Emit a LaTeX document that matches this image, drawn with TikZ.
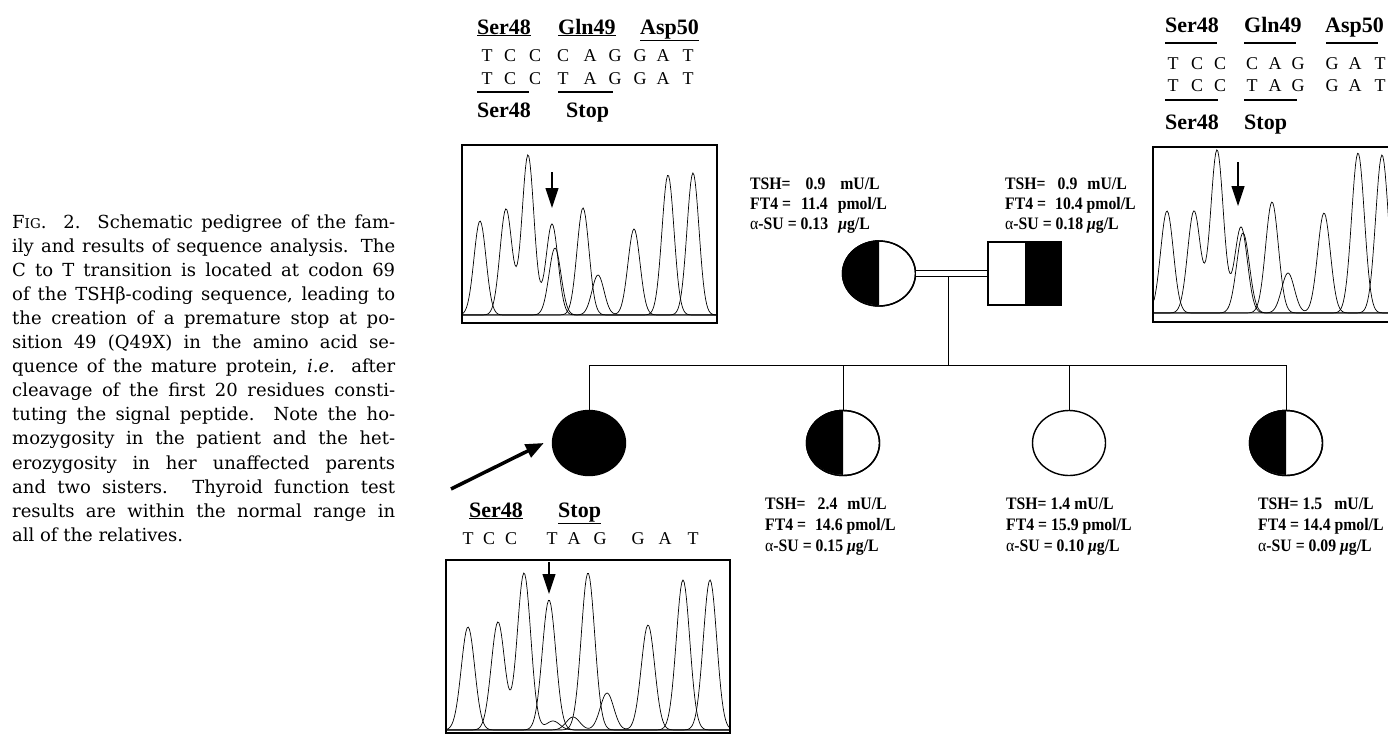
\documentclass[tikz,border=0pt]{standalone}
\usepackage{fontspec}
\newfontfamily\tnr{Liberation Serif}
\newfontfamily\tnrc[FakeStretch=0.9]{Liberation Serif}
\newfontfamily\capf{DejaVu Serif}
\usetikzlibrary{arrows.meta,shapes.geometric}
\newcommand{\cl}[1]{\makebox[383pt][s]{#1}}
\newcommand{\gpk}[2]{#2*exp(max(-20,0-(((\x-#1)/\gsig)^2)))}
\newcommand{\gp}[1]{\hspace{#1pt}}
\def\gsig{8.5}
\tikzset{
  hdr/.style={font=\tnr\bfseries\fontsize{22}{26}\selectfont, inner sep=0, anchor=base west},
  seqc/.style={font=\tnr\fontsize{18}{20}\selectfont, inner sep=0, anchor=base},
  lab/.style={font=\tnrc\bfseries\fontsize{17.5}{20}\selectfont, inner sep=0, anchor=base west},
  trace/.style={line width=0.7pt, black},
  noise/.style={line width=0.5pt, gray!70},
  chbox/.style={line width=1.8pt, black},
  rule/.style={line width=1.2pt, black},
  chark/.style={line width=1.1pt, -{Triangle[length=20pt,width=13pt]}},
  fem/.style={ellipse, draw, line width=1.4pt, minimum width=73pt, minimum height=65pt, inner sep=0, fill=white},
  mal/.style={rectangle, draw, line width=1.4pt, minimum width=73pt, minimum height=63pt, inner sep=0, fill=white},
  pline/.style={line width=1pt, black}
}
\begin{document}
\begin{tikzpicture}[x=1pt,y=-1pt]
\useasboundingbox (0,0) rectangle (1388,734);
\fill[white] (0,0) rectangle (1388,734);
\clip (0,0) rectangle (1388,734);

% ---------- caption ----------
\node[anchor=base west, inner sep=0, font=\capf\fontsize{18}{24.1}\selectfont] (cap) at (12,228) {\begin{minipage}[t]{383pt}%
\cl{F{\fontsize{13.5}{16}\selectfont IG}.\ \ 2.\ \ Schematic pedigree of the fam-}\par
\cl{ily and results of sequence analysis. The}\par
\cl{C to T transition is located at codon 69}\par
\cl{of the TSHβ-coding sequence, leading to}\par
\cl{the creation of a premature stop at po-}\par
\cl{sition 49 (Q49X) in the amino acid se-}\par
\cl{quence of the mature protein, \textit{i.e.} after}\par
\cl{cleavage of the first 20 residues consti-}\par
\cl{tuting the signal peptide. Note the ho-}\par
\cl{mozygosity in the patient and the het-}\par
\cl{erozygosity in her unaffected parents}\par
\cl{and two sisters. Thyroid function test}\par
\cl{results are within the normal range in}\par
all of the relatives.\end{minipage}};

% ---------- top-left sequence ----------
\node[hdr] (tlh1) at (477,34) {\underline{Ser48}};
\node[hdr] (tlh2) at (558,34) {\underline{Gln49}};
\node[hdr] (tlh3) at (640,34) {\underline{Asp50}};
\foreach \c/\xx [count=\i] in {T/487,C/510,C/535,C/563,A/590,G/615,G/640,A/663,T/688}
  \node[seqc] (tla\i) at (\xx,61) {\c};
\foreach \c/\xx [count=\i] in {T/487,C/510,C/535,T/563,A/590,G/615,G/640,A/663,T/688}
  \node[seqc] (tlb\i) at (\xx,84) {\c};
\draw[rule] (477,92) -- (529,92);
\draw[rule] (558,92) -- (613,92);
\node[hdr] (tll1) at (477,117) {Ser48};
\node[hdr] (tll2) at (566,117) {Stop};

% ---------- top-right sequence ----------
\node[hdr] (trh1) at (1165,32) {Ser48};
\node[hdr] (trh2) at (1244,32) {Gln49};
\node[hdr] (trh3) at (1325,32) {Asp50};
\draw[rule] (1165,43) -- (1217,43);
\draw[rule] (1244,43) -- (1296,43);
\draw[rule] (1326,43) -- (1378,43);
\foreach \c/\xx [count=\i] in {T/1173,C/1197,C/1220,C/1252,A/1275,G/1298,G/1332,A/1355,T/1380}
  \node[seqc] (tra\i) at (\xx,69) {\c};
\foreach \c/\xx [count=\i] in {T/1173,C/1197,C/1220,T/1252,A/1275,G/1298,G/1332,A/1355,T/1380}
  \node[seqc] (trb\i) at (\xx,91) {\c};
\draw[rule] (1165,100) -- (1218,100);
\draw[rule] (1244,100) -- (1297,100);
\node[hdr] (trl1) at (1165,129) {Ser48};
\node[hdr] (trl2) at (1244,129) {Stop};

% ---------- bottom sequence ----------
\node[hdr] (bh1) at (469,517) {\underline{Ser48}};
\node[hdr] (bh2) at (558,517) {\underline{Stop}};
\foreach \c/\xx [count=\i] in {T/468,C/489,C/511,T/552,A/574,G/600,G/638,A/665,T/693}
  \node[seqc] (bs\i) at (\xx,544) {\c};

% ---------- chromatogram top-left ----------
\def\gsig{8.5}
\begin{scope}
\clip (463,146) rectangle (716,322);
\draw[noise] (463,314) -- (716,314);
\draw[trace] plot[domain=463:716,samples=220] (\x,{315-\gpk{480}{94}-\gpk{555}{67}-\gpk{693}{142}});
\draw[trace] plot[domain=463:716,samples=220] (\x,{315-\gpk{506}{106}-\gpk{528}{160}-\gpk{552}{91}});
\draw[trace] plot[domain=463:716,samples=220] (\x,{315-\gpk{583}{107}-\gpk{668}{140}});
\draw[trace] plot[domain=463:716,samples=220] (\x,{315-\gpk{598}{40}-\gpk{634}{86}});
\end{scope}
\draw[chbox] (462,145) rectangle (717,323);
\coordinate (a1s) at (552,172);
\coordinate (a1e) at (552,208);
\draw[chark] (a1s) -- (a1e);

% ---------- chromatogram top-right ----------
\def\gsig{9}
\begin{scope}
\clip (1154,148) rectangle (1400,321);
\draw[noise] (1154,312) -- (1400,312);
\draw[trace] plot[domain=1154:1395,samples=220] (\x,{313-\gpk{1167}{102}-\gpk{1243}{80}-\gpk{1382}{158}});
\draw[trace] plot[domain=1154:1395,samples=220] (\x,{313-\gpk{1194}{102}-\gpk{1217}{163}-\gpk{1241}{86}});
\draw[trace] plot[domain=1154:1395,samples=220] (\x,{313-\gpk{1272}{111}-\gpk{1358}{160}});
\draw[trace] plot[domain=1154:1395,samples=220] (\x,{313-\gpk{1288}{40}-\gpk{1324}{100}});
\end{scope}
\draw[chbox] (1153,147) rectangle (1400,322);
\coordinate (a2s) at (1238,162);
\coordinate (a2e) at (1238,206);
\draw[chark] (a2s) -- (a2e);

% ---------- chromatogram bottom ----------
\def\gsig{9.5}
\begin{scope}
\clip (447,561) rectangle (729,732);
\draw[noise] (447,729) -- (729,729);
\draw[trace] plot[domain=447:729,samples=240] (\x,{730-\gpk{468}{103}-\gpk{549}{130}-\gpk{710}{150}});
\draw[trace] plot[domain=447:729,samples=240] (\x,{730-\gpk{498}{108}-\gpk{524}{157}-\gpk{553}{9}});
\draw[trace] plot[domain=447:729,samples=240] (\x,{730-\gpk{588}{157}-\gpk{683}{150}});
\draw[trace] plot[domain=447:729,samples=240] (\x,{730-\gpk{573}{13}-\gpk{607}{37}-\gpk{648}{105}});
\end{scope}
\draw[chbox] (446,560) rectangle (730,733);
\coordinate (a3s) at (549,562);
\coordinate (a3e) at (549,594);
\draw[chark] (a3s) -- (a3e);

% ---------- pedigree ----------
\node[fem] (mo) at (879,273.5) {};
\fill (mo.north) arc[start angle=90, end angle=270, x radius=36.5pt, y radius=32.5pt] -- cycle;
\node[fem, fill=none] at (mo.center) {};
\node[mal] (fa) at (1024.5,273.5) {};
\fill (fa.north) rectangle (fa.south east);
\node[mal, fill=none] at (fa.center) {};
\draw[double=white, double distance=4.5pt, line width=1.3pt] (mo.east) -- (fa.west);

\node[fem, fill=black] (c1) at (589,443) {};
\node[fem] (c2) at (843,443) {};
\fill (c2.north) arc[start angle=90, end angle=270, x radius=36.5pt, y radius=32.5pt] -- cycle;
\node[fem, fill=none] at (c2.center) {};
\node[fem] (c3) at (1069,443) {};
\node[fem] (c4) at (1286,443) {};
\fill (c4.north) arc[start angle=90, end angle=270, x radius=36.5pt, y radius=32.5pt] -- cycle;
\node[fem, fill=none] at (c4.center) {};

\coordinate (dtop) at (948,277);
\coordinate (sib) at (948,365);
\draw[pline] (dtop) -- (sib);
\draw[pline] (c1 |- sib) -- (c4 |- sib);
\draw[pline] (c1 |- sib) -- (c1.north);
\draw[pline] (c2 |- sib) -- (c2.north);
\draw[pline] (c3 |- sib) -- (c3.north);
\draw[pline] (c4 |- sib) -- (c4.north);

% proband arrow
\coordinate (pa) at (451,489);
\draw[line width=3.5pt, -{Triangle[length=18pt,width=14pt]}] (pa) -- ([xshift=-8pt]c1.west);

% ---------- lab values ----------
\node[lab] (m1) at (750,189) {TSH=\gp{15}0.9\gp{15}mU/L};
\node[lab] (m2) at (750,209) {FT4 =\gp{10}11.4\gp{10}pmol/L};
\node[lab] (m3) at (750,229) {\textmd{α}-SU = 0.13\gp{10}\textit{μ}g/L};
\node[lab] (f1) at (1005,189) {TSH=\gp{12}0.9\gp{10}mU/L};
\node[lab] (f2) at (1005,209) {FT4 =\gp{9}10.4 pmol/L};
\node[lab] (f3) at (1005,229) {\textmd{α}-SU = 0.18 \textit{μ}g/L};
\node[lab] (k21) at (765,509) {TSH=\gp{12}2.4\gp{10}mU/L};
\node[lab] (k22) at (765,530) {FT4 =\gp{9}14.6 pmol/L};
\node[lab] (k23) at (765,551) {\textmd{α}-SU = 0.15 \textit{μ}g/L};
\node[lab] (k31) at (1006,509) {TSH= 1.4 mU/L};
\node[lab] (k32) at (1006,530) {FT4 = 15.9 pmol/L};
\node[lab] (k33) at (1006,551) {\textmd{α}-SU = 0.10 \textit{μ}g/L};
\node[lab] (k41) at (1258,509) {TSH= 1.5\gp{12}mU/L};
\node[lab] (k42) at (1258,530) {FT4 = 14.4 pmol/L};
\node[lab] (k43) at (1258,551) {\textmd{α}-SU = 0.09 \textit{μ}g/L};
\end{tikzpicture}
\end{document}
